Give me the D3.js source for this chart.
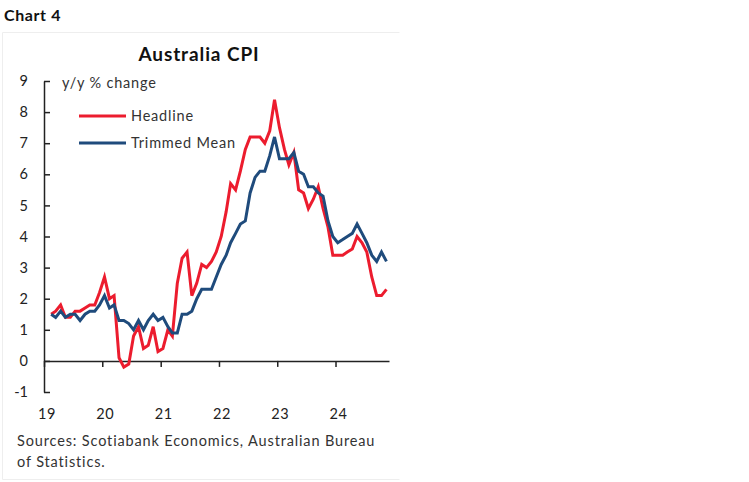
<!DOCTYPE html>
<html>
<head>
<meta charset="utf-8">
<script src="https://cdn.jsdelivr.net/npm/d3@7"></script>
<style>
  body { margin: 0; background: #fff; }
  svg { display: block; font-family: Lato, "Open Sans", sans-serif; }
</style>
</head>
<body>
<div id="chart"></div>
<script>
// monthly data, Feb 2019 .. Nov 2024 (y/y % change)
var startMonth = new Date(2019, 1, 15);
var headline = [
  1.5, 1.6, 1.8, 1.4, 1.4, 1.6, 1.6, 1.7, 1.8, 1.8,
  2.2, 2.7, 2.0, 2.1, 0.1, -0.2, -0.1, 0.8, 1.1, 0.4,
  0.5, 1.1, 0.3, 0.4, 1.0, 0.8, 2.5, 3.3, 3.5, 2.1,
  2.5, 3.1, 3.0, 3.2, 3.5, 4.0, 4.8, 5.7, 5.5, 6.1,
  6.8, 7.2, 7.2, 7.2, 7.0, 7.4, 8.4, 7.5, 6.8, 6.3,
  6.7, 5.5, 5.4, 4.9, 5.2, 5.6, 4.9, 4.3, 3.4, 3.4,
  3.4, 3.5, 3.6, 4.0, 3.8, 3.5, 2.7, 2.1, 2.1, 2.3
];
var trimmedMean = [
  1.5, 1.4, 1.6, 1.4, 1.5, 1.5, 1.3, 1.5, 1.6, 1.6,
  1.8, 2.1, 1.7, 1.8, 1.3, 1.3, 1.2, 1.0, 1.3, 1.0,
  1.3, 1.5, 1.3, 1.4, 1.1, 0.9, 0.9, 1.5, 1.5, 1.6,
  2.0, 2.3, 2.3, 2.3, 2.7, 3.1, 3.4, 3.8, 4.1, 4.4,
  4.5, 5.4, 5.9, 6.1, 6.1, 6.6, 7.2, 6.5, 6.5, 6.5,
  6.7, 6.1, 6.0, 5.6, 5.6, 5.4, 5.3, 4.5, 4.0, 3.8,
  3.9, 4.0, 4.1, 4.4, 4.1, 3.8, 3.4, 3.2, 3.5, 3.2
];
var seriesNames = ['Headline', 'Trimmed Mean'];
var seriesColors = ['#ec1c2e', '#1f4b7c'];
var yearLabels = ['19', '20', '21', '22', '23', '24'];
var yTicks = [-1, 0, 1, 2, 3, 4, 5, 6, 7, 8, 9];

var width = 749, height = 482;

var svg = d3.select('#chart').append('svg')
    .attr('width', width)
    .attr('height', height);

// faint frame
svg.append('path')
    .attr('d', 'M2.5,32.5H399.5M2.5,32.5V479.5M2.5,479.5H399.5')
    .attr('fill', 'none')
    .attr('stroke', '#eeeeee');

svg.append('text')
    .attr('x', 4).attr('y', 21)
    .attr('font-size', 16).attr('font-weight', 'bold')
    .attr('letter-spacing', 0.6)
    .attr('fill', '#111')
    .text('Chart 4');

svg.append('text')
    .attr('x', 199).attr('y', 61)
    .attr('text-anchor', 'middle')
    .attr('font-size', 19).attr('font-weight', 'bold')
    .attr('letter-spacing', 0.9)
    .attr('fill', '#111')
    .text('Australia CPI');

var x = d3.scaleTime()
    .domain([new Date(2019, 0, 1), new Date(2024, 11, 1)])
    .range([44, 389]);

var y = d3.scaleLinear()
    .domain([-1, 9])
    .range([392, 81]);

var dates = headline.map(function(d, i) {
    return d3.timeMonth.offset(startMonth, i);
});

// y axis, ticks pointing inward
var yAxis = svg.append('g')
    .attr('transform', 'translate(44,0)')
    .call(d3.axisLeft(y)
        .tickValues(yTicks)
        .tickSizeInner(-6)
        .tickSizeOuter(0)
        .tickPadding(16)
        .tickFormat(function(d) { return String(d); }));
yAxis.selectAll('path, line').attr('stroke', '#222').attr('stroke-width', 1.5);
yAxis.selectAll('text')
    .attr('font-size', 14.5)
    .attr('font-family', 'Lato, sans-serif')
    .attr('fill', '#222');

// x axis on the zero line
var years = d3.timeYear.range(new Date(2019, 0, 1), new Date(2025, 0, 1));
var xAxis = svg.append('g')
    .attr('transform', 'translate(0,' + y(0) + ')')
    .call(d3.axisBottom(x)
        .tickValues(years)
        .tickSizeInner(6)
        .tickSizeOuter(0)
        .tickFormat(''));
xAxis.selectAll('path, line').attr('stroke', '#222').attr('stroke-width', 1.5);

svg.append('g').selectAll('text')
    .data(years)
    .enter().append('text')
    .attr('x', function(d) { return x(d) + 3; })
    .attr('y', 419)
    .attr('text-anchor', 'middle')
    .attr('font-size', 14.5)
    .attr('letter-spacing', 0.5)
    .attr('fill', '#222')
    .text(function(d, i) { return yearLabels[i]; });

svg.append('text')
    .attr('x', 62).attr('y', 88)
    .attr('font-size', 14.5)
    .attr('letter-spacing', 0.8)
    .attr('fill', '#333')
    .text('y/y % change');

var line = d3.line()
    .x(function(d) { return x(d.date); })
    .y(function(d) { return y(d.value); });

[headline, trimmedMean].forEach(function(values, s) {
    var pts = values.map(function(v, i) { return { date: dates[i], value: v }; });
    svg.append('path')
        .datum(pts)
        .attr('fill', 'none')
        .attr('stroke', seriesColors[s])
        .attr('stroke-width', 3)
        .attr('stroke-linejoin', 'miter')
        .attr('d', line);
});

// legend
var legend = svg.append('g').selectAll('g')
    .data(seriesNames)
    .enter().append('g')
    .attr('transform', function(d, i) { return 'translate(79,' + (116 + i * 27) + ')'; });
legend.append('line')
    .attr('x1', 0).attr('x2', 47)
    .attr('stroke', function(d, i) { return seriesColors[i]; })
    .attr('stroke-width', 3);
legend.append('text')
    .attr('x', 52).attr('y', 5)
    .attr('font-size', 14.5)
    .attr('letter-spacing', 0.8)
    .attr('fill', '#333')
    .text(function(d) { return d; });

var source = svg.append('text')
    .attr('font-size', 14.5)
    .attr('letter-spacing', 0.85)
    .attr('fill', '#333');
source.append('tspan').attr('x', 17).attr('y', 446)
    .text('Sources: Scotiabank Economics, Australian Bureau');
source.append('tspan').attr('x', 17).attr('y', 467)
    .text('of Statistics.');
</script>
</body>
</html>
